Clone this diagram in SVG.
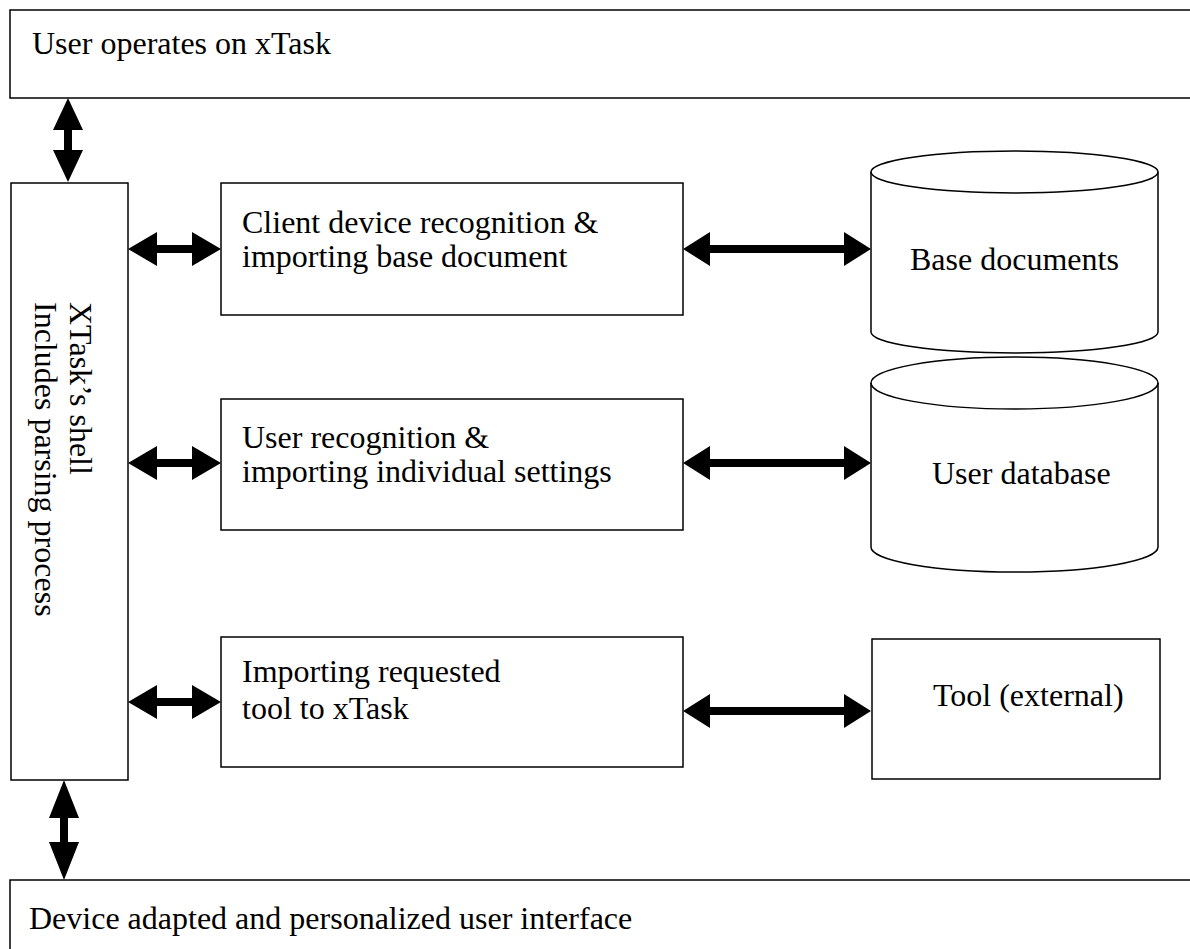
<svg xmlns="http://www.w3.org/2000/svg" width="1190" height="949" viewBox="0 0 1190 949">
<style>
.box{fill:#fff;stroke:#000;stroke-width:1.5}
.t{font-family:"Liberation Serif","Times New Roman",serif;font-size:32px;fill:#000}
.arr{fill:#000;stroke:none}
</style>
<rect width="1190" height="949" fill="#fff"/>
<g id="user-operates">
<rect class="box" x="10" y="10" width="1200" height="88"/>
<text class="t" x="32" y="54">User operates on xTask</text>
</g>
<g id="shell">
<rect class="box" x="11" y="183" width="117" height="597"/>
<text class="t" transform="translate(70,302) rotate(90)"><tspan x="0" y="0">XTask’s shell</tspan><tspan x="0" y="35">Includes parsing process</tspan></text>
</g>
<g id="client-device">
<rect class="box" x="221" y="183" width="462" height="132"/>
<text class="t"><tspan x="242" y="233">Client device recognition &amp;</tspan><tspan x="242" y="267">importing base document</tspan></text>
</g>
<g id="user-recognition">
<rect class="box" x="221" y="399" width="462" height="131"/>
<text class="t"><tspan x="242" y="448">User recognition &amp;</tspan><tspan x="242" y="482">importing individual settings</tspan></text>
</g>
<g id="importing-tool">
<rect class="box" x="221" y="637" width="462" height="130"/>
<text class="t"><tspan x="242" y="682">Importing requested</tspan><tspan x="242" y="719">tool to xTask</tspan></text>
</g>
<g id="base-documents">
<path class="box" d="M871,172 A143.5,21 0 0 1 1158,172 L1158,332 A143.5,21 0 0 1 871,332 Z"/>
<path fill="none" stroke="#000" stroke-width="1.5" d="M871,172 A143.5,21 0 0 0 1158,172"/>
<text class="t" x="910" y="270">Base documents</text>
</g>
<g id="user-database">
<path class="box" d="M871,383 A143.5,26 0 0 1 1158,383 L1158,547 A143.5,25 0 0 1 871,547 Z"/>
<path fill="none" stroke="#000" stroke-width="1.5" d="M871,383 A143.5,26 0 0 0 1158,383"/>
<text class="t" x="932" y="484">User database</text>
</g>
<g id="tool-external">
<rect class="box" x="872" y="639" width="288" height="140"/>
<text class="t" x="933" y="706">Tool (external)</text>
</g>
<g id="device-ui">
<rect class="box" x="10" y="880" width="1200" height="100"/>
<text class="t" x="29" y="929">Device adapted and personalized user interface</text>
</g>
<g id="connectors">
<polygon class="arr" points="68,98 83,130 72,130 72,150 83,150 68,182 53,150 64,150 64,130 53,130"/>
<polygon class="arr" points="64,780 79,818 68,818 68,842 79,842 64,880 49,842 60,842 60,818 49,818"/>
<polygon class="arr" points="128,249 157,232 157,245 192,245 192,232 221,249 192,266 192,253 157,253 157,266"/>
<polygon class="arr" points="128,463 157,446 157,459 192,459 192,446 221,463 192,480 192,467 157,467 157,480"/>
<polygon class="arr" points="128,702 157,685 157,698 192,698 192,685 221,702 192,719 192,706 157,706 157,719"/>
<polygon class="arr" points="683,249 710,232 710,245 844,245 844,232 871,249 844,266 844,253 710,253 710,266"/>
<polygon class="arr" points="683,463 710,446 710,459 844,459 844,446 871,463 844,480 844,467 710,467 710,480"/>
<polygon class="arr" points="683,711 710,694 710,707 844,707 844,694 871,711 844,728 844,715 710,715 710,728"/>
</g>
</svg>
